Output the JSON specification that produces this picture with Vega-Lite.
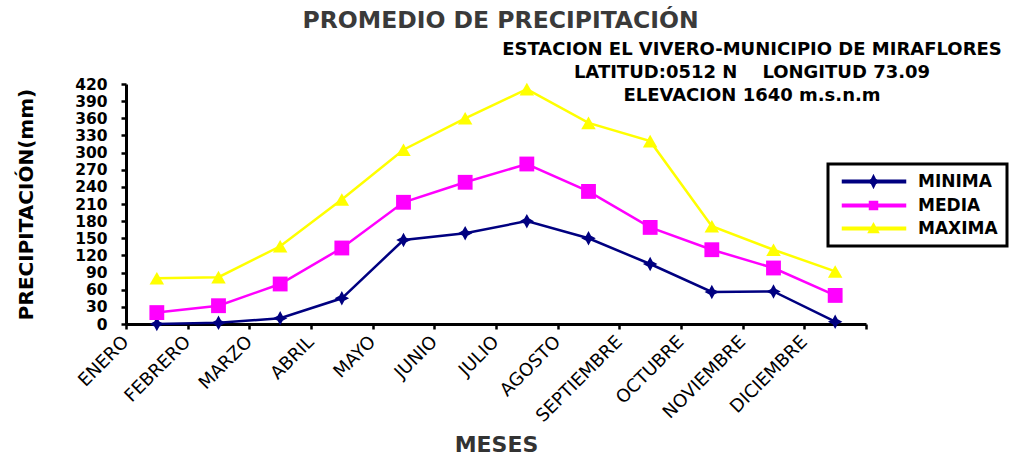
{
  "$schema": "https://vega.github.io/schema/vega-lite/v6.json",
  "background": "white",
  "padding": {"left": 16, "top": 8, "right": 0, "bottom": 0},
  "title": {
    "text": "PROMEDIO DE PRECIPITACIÓN",
    "font": "DejaVu Sans",
    "fontSize": 23.5,
    "fontWeight": "bold",
    "color": "#3a3a3a",
    "anchor": "middle",
    "frame": "bounds",
    "dx": -12,
    "offset": 9
  },
  "data": {
    "values": [
      {"mes": "ENERO", "serie": "MINIMA", "valor": 0},
      {"mes": "FEBRERO", "serie": "MINIMA", "valor": 2},
      {"mes": "MARZO", "serie": "MINIMA", "valor": 10},
      {"mes": "ABRIL", "serie": "MINIMA", "valor": 45},
      {"mes": "MAYO", "serie": "MINIMA", "valor": 147},
      {"mes": "JUNIO", "serie": "MINIMA", "valor": 159},
      {"mes": "JULIO", "serie": "MINIMA", "valor": 180},
      {"mes": "AGOSTO", "serie": "MINIMA", "valor": 150},
      {"mes": "SEPTIEMBRE", "serie": "MINIMA", "valor": 105},
      {"mes": "OCTUBRE", "serie": "MINIMA", "valor": 56},
      {"mes": "NOVIEMBRE", "serie": "MINIMA", "valor": 57},
      {"mes": "DICIEMBRE", "serie": "MINIMA", "valor": 4},
      {"mes": "ENERO", "serie": "MEDIA", "valor": 20},
      {"mes": "FEBRERO", "serie": "MEDIA", "valor": 32},
      {"mes": "MARZO", "serie": "MEDIA", "valor": 70},
      {"mes": "ABRIL", "serie": "MEDIA", "valor": 133},
      {"mes": "MAYO", "serie": "MEDIA", "valor": 213},
      {"mes": "JUNIO", "serie": "MEDIA", "valor": 248},
      {"mes": "JULIO", "serie": "MEDIA", "valor": 280},
      {"mes": "AGOSTO", "serie": "MEDIA", "valor": 232},
      {"mes": "SEPTIEMBRE", "serie": "MEDIA", "valor": 169},
      {"mes": "OCTUBRE", "serie": "MEDIA", "valor": 130},
      {"mes": "NOVIEMBRE", "serie": "MEDIA", "valor": 98},
      {"mes": "DICIEMBRE", "serie": "MEDIA", "valor": 50},
      {"mes": "ENERO", "serie": "MAXIMA", "valor": 80},
      {"mes": "FEBRERO", "serie": "MAXIMA", "valor": 82},
      {"mes": "MARZO", "serie": "MAXIMA", "valor": 136},
      {"mes": "ABRIL", "serie": "MAXIMA", "valor": 218},
      {"mes": "MAYO", "serie": "MAXIMA", "valor": 305},
      {"mes": "JUNIO", "serie": "MAXIMA", "valor": 360},
      {"mes": "JULIO", "serie": "MAXIMA", "valor": 411},
      {"mes": "AGOSTO", "serie": "MAXIMA", "valor": 352},
      {"mes": "SEPTIEMBRE", "serie": "MAXIMA", "valor": 320},
      {"mes": "OCTUBRE", "serie": "MAXIMA", "valor": 171},
      {"mes": "NOVIEMBRE", "serie": "MAXIMA", "valor": 130},
      {"mes": "DICIEMBRE", "serie": "MAXIMA", "valor": 92}
    ]
  },
  "vconcat": [
    {
      "title": {
        "text": ["ESTACION EL VIVERO-MUNICIPIO DE MIRAFLORES", "LATITUD:0512 N\u00a0\u00a0\u00a0\u00a0LONGITUD 73.09", "ELEVACION 1640 m.s.n.m"],
        "font": "DejaVu Sans",
        "fontSize": 18,
        "fontWeight": "bold",
        "color": "black",
        "anchor": "end",
        "align": "center",
        "baseline": "bottom",
        "frame": "group",
        "dx": -114,
        "offset": -46,
        "lineHeight": 23
      },
      "width": 740,
      "height": 240,
      "encoding": {
        "x": {
          "field": "mes",
          "type": "ordinal",
          "sort": ["ENERO", "FEBRERO", "MARZO", "ABRIL", "MAYO", "JUNIO", "JULIO", "AGOSTO", "SEPTIEMBRE", "OCTUBRE", "NOVIEMBRE", "DICIEMBRE"],
          "scale": {"type": "band", "paddingInner": 0, "paddingOuter": 0},
          "bandPosition": 0.5,
          "axis": {
            "title": "MESES",
            "titleFont": "DejaVu Sans",
            "titleFontSize": 22,
            "titleFontWeight": "bold",
            "titleColor": "#333333",
            "titlePadding": 9,
            "labelAngle": -45,
            "labelAlign": "right",
            "labelBaseline": "middle",
            "labelFont": "DejaVu Sans",
            "labelFontSize": 18,
            "labelColor": "black",
            "labelPadding": 10,
            "labelOffset": -31,
            "labelOverlap": false,
            "tickBand": "extent",
            "tickSize": 5,
            "tickWidth": 2.5,
            "tickColor": "black",
            "domainColor": "black",
            "domainWidth": 3,
            "grid": false
          }
        },
        "y": {
          "field": "valor",
          "type": "quantitative",
          "scale": {"domain": [0, 420], "nice": false},
          "axis": {
            "values": [0, 30, 60, 90, 120, 150, 180, 210, 240, 270, 300, 330, 360, 390, 420],
            "title": "PRECIPITACIÓN(mm)",
            "titleFont": "DejaVu Sans",
            "titleFontSize": 20,
            "titleFontWeight": "bold",
            "titleColor": "black",
            "titlePadding": 38,
            "labelFont": "DejaVu Sans",
            "labelFontSize": 15.5,
            "labelFontWeight": "bold",
            "labelColor": "black",
            "labelPadding": 14,
            "tickSize": 5,
            "tickWidth": 2.5,
            "tickColor": "black",
            "domainColor": "black",
            "domainWidth": 3,
            "grid": false
          }
        },
        "color": {
          "field": "serie",
          "type": "nominal",
          "scale": {"domain": ["MINIMA", "MEDIA", "MAXIMA"], "range": ["#000080", "#FF00FF", "#FFFF00"]},
          "legend": {
            "title": null,
            "orient": "none",
            "legendX": 702,
            "legendY": 80,
            "strokeColor": "black",
            "fillColor": "white",
            "padding": 9,
            "labelFont": "DejaVu Sans",
            "labelFontSize": 17,
            "labelFontWeight": "bold",
            "labelColor": "black",
            "labelOffset": 64,
            "symbolSize": 100,
            "rowPadding": 5,
            "encoding": {
              "legend": {
                "strokeWidth": {"value": 3}
              },
              "symbols": {
                "shape": {"value": {"expr": "datum.value === 'MINIMA' ? 'M-0.6,-0.25H12V0.25H-0.6Z M5.6,-1.2L6,-0.4L6.8,0L6,0.4L5.6,1.2L5.2,0.4L4.4,0L5.2,-0.4Z' : datum.value === 'MEDIA' ? 'M-0.6,-0.25H12V0.25H-0.6Z M4.8,-0.8H6.4V0.8H4.8Z' : 'M-0.6,-0.25H12V0.25H-0.6Z M5.6,-1L6.6,0.8L4.6,0.8Z'"}},
                "fill": {"value": {"expr": "datum.value === 'MINIMA' ? '#000080' : datum.value === 'MEDIA' ? '#FF00FF' : '#FFFF00'"}},
                "stroke": {"value": "transparent"},
                "opacity": {"value": 1}
              }
            }
          }
        }
      },
      "layer": [
        {"mark": {"type": "line", "strokeWidth": 2.5}},
        {
          "transform": [{"filter": "datum.serie === 'MINIMA'"}],
          "mark": {"type": "point", "filled": true, "opacity": 1, "size": 210, "strokeWidth": 0, "shape": "M0,-1L0.35,-0.35L1,0L0.35,0.35L0,1L-0.35,0.35L-1,0L-0.35,-0.35Z"}
        },
        {
          "transform": [{"filter": "datum.serie === 'MEDIA'"}],
          "mark": {"type": "point", "filled": true, "opacity": 1, "size": 220, "strokeWidth": 0, "shape": "square"}
        },
        {
          "transform": [{"filter": "datum.serie === 'MAXIMA'"}],
          "mark": {"type": "point", "filled": true, "opacity": 1, "size": 210, "strokeWidth": 0, "shape": "triangle-up"}
        }
      ]
    }
  ],
  "config": {"view": {"stroke": null}, "font": "DejaVu Sans"}
}
